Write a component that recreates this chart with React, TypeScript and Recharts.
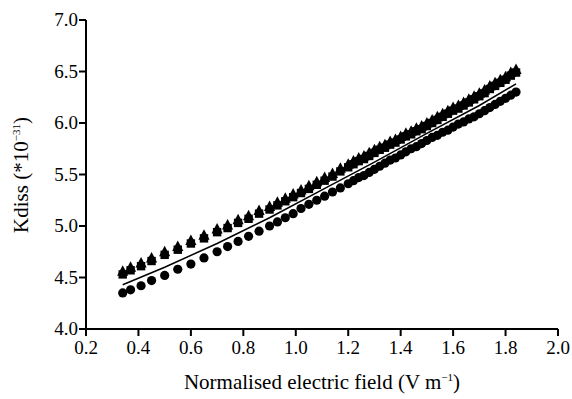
import { ComposedChart, Scatter, XAxis, YAxis } from "recharts";

const fieldX = [
  0.34, 0.37, 0.41, 0.45, 0.5, 0.55, 0.6, 0.65, 0.7, 0.74, 0.78, 0.82, 0.86, 0.9, 0.93, 0.96, 0.99, 1.02, 1.05, 1.08,
  1.11, 1.14, 1.17, 1.2, 1.22, 1.24, 1.26, 1.28, 1.3, 1.32, 1.34, 1.36, 1.38, 1.4, 1.42, 1.44, 1.46, 1.48, 1.5, 1.52,
  1.54, 1.56, 1.58, 1.6, 1.62, 1.64, 1.66, 1.68, 1.7, 1.72, 1.74, 1.76, 1.78, 1.8, 1.82, 1.84,
];

const triangleY = [
  4.56, 4.6, 4.64, 4.69, 4.75, 4.8, 4.86, 4.91, 4.97, 5.01, 5.06, 5.1, 5.15, 5.19, 5.23, 5.27, 5.31, 5.35, 5.39, 5.43,
  5.47, 5.51, 5.56, 5.6, 5.63, 5.66, 5.68, 5.71, 5.74, 5.77, 5.79, 5.82, 5.84, 5.87, 5.9, 5.92, 5.95, 5.97, 6.0, 6.03,
  6.06, 6.09, 6.12, 6.15, 6.17, 6.2, 6.23, 6.26, 6.29, 6.32, 6.36, 6.39, 6.42, 6.45, 6.49, 6.52,
];

const squareY = [
  4.53, 4.57, 4.61, 4.66, 4.72, 4.77, 4.83, 4.88, 4.94, 4.98, 5.03, 5.07, 5.12, 5.16, 5.2, 5.24, 5.28, 5.32, 5.36, 5.4,
  5.44, 5.48, 5.53, 5.57, 5.6, 5.63, 5.65, 5.68, 5.71, 5.74, 5.76, 5.79, 5.81, 5.84, 5.87, 5.89, 5.92, 5.94, 5.97, 6.0,
  6.03, 6.06, 6.09, 6.12, 6.14, 6.17, 6.2, 6.23, 6.26, 6.29, 6.33, 6.36, 6.39, 6.42, 6.46, 6.49,
];

const circleY = [
  4.35, 4.38, 4.42, 4.47, 4.52, 4.58, 4.63, 4.69, 4.75, 4.8, 4.85, 4.9, 4.95, 5.0, 5.04, 5.08, 5.12, 5.17, 5.21, 5.25,
  5.29, 5.33, 5.37, 5.41, 5.44, 5.47, 5.49, 5.52, 5.55, 5.58, 5.61, 5.64, 5.66, 5.69, 5.72, 5.75, 5.77, 5.8, 5.83, 5.86,
  5.88, 5.91, 5.93, 5.96, 5.99, 6.01, 6.04, 6.06, 6.09, 6.12, 6.15, 6.18, 6.21, 6.24, 6.27, 6.3,
];

const fitX = [0.34, 0.5, 0.7, 0.9, 1.1, 1.3, 1.5, 1.7, 1.84];
const fitY = [4.43, 4.6, 4.83, 5.08, 5.35, 5.62, 5.9, 6.17, 6.38];

const xTicks = [0.2, 0.4, 0.6, 0.8, 1.0, 1.2, 1.4, 1.6, 1.8, 2.0];
const yTicks = [4.0, 4.5, 5.0, 5.5, 6.0, 6.5, 7.0];

const serif = { fontFamily: "Liberation Serif, Times New Roman, serif" };

const toPoints = (xs: number[], ys: number[]) => xs.map((x, i) => ({ x, y: ys[i] }));

const triangles = toPoints(fieldX, triangleY);
const squares = toPoints(fieldX, squareY);
const circles = toPoints(fieldX, circleY);
const fit = toPoints(fitX, fitY);

const Dot = (p: any) => <circle cx={p.cx} cy={p.cy} r={4.6} fill="#000" />;
const Square = (p: any) => <rect x={p.cx - 4.2} y={p.cy - 4.2} width={8.4} height={8.4} fill="#000" />;
const Triangle = (p: any) => (
  <polygon points={`${p.cx},${p.cy - 6} ${p.cx - 5.6},${p.cy + 4.5} ${p.cx + 5.6},${p.cy + 4.5}`} fill="#000" />
);

const XTick = (p: any) => (
  <text x={p.x} y={p.y + 16} textAnchor="middle" style={serif} fontSize={19} fill="#000">
    {Number(p.payload.value).toFixed(1)}
  </text>
);

const YTick = (p: any) => (
  <text x={p.x + 1} y={p.y + 6} textAnchor="end" style={serif} fontSize={19} fill="#000">
    {Number(p.payload.value).toFixed(1)}
  </text>
);

function YLabel() {
  return (
    <text x={28} y={175} transform="rotate(-90 28 175)" textAnchor="middle" style={serif} fontSize={21} fill="#000">
      Kdiss (*10
      <tspan fontSize={11} dy={-8}>
        −31
      </tspan>
      <tspan dy={8}>)</tspan>
    </text>
  );
}

function XLabel() {
  return (
    <text x={322} y={389} textAnchor="middle" style={serif} fontSize={21} fill="#000">
      Normalised electric field (V m
      <tspan fontSize={11} dy={-8}>
        −1
      </tspan>
      <tspan dy={8}>)</tspan>
    </text>
  );
}

export default function App() {
  return (
    <div style={{ position: "absolute", left: 0, top: 0, background: "#fff" }}>
      <ComposedChart width={572} height={399} margin={{ top: 20, right: 14, bottom: 30, left: 26 }}>
        <XAxis
          type="number"
          dataKey="x"
          domain={[0.2, 2.0]}
          ticks={xTicks}
          height={40}
          stroke="#000"
          strokeWidth={2}
          tickSize={7}
          tick={<XTick />}
          allowDataOverflow
        />
        <YAxis
          type="number"
          dataKey="y"
          domain={[4.0, 7.0]}
          ticks={yTicks}
          width={60}
          stroke="#000"
          strokeWidth={2}
          tickSize={7}
          tick={<YTick />}
          allowDataOverflow
        />
        <Scatter data={circles} shape={Dot} isAnimationActive={false} />
        <Scatter data={squares} shape={Square} isAnimationActive={false} />
        <Scatter data={triangles} shape={Triangle} isAnimationActive={false} />
        <Scatter
          data={fit}
          line={{ stroke: "#000", strokeWidth: 1.5 }}
          lineType="joint"
          shape={() => null}
          isAnimationActive={false}
        />
        <YLabel />
        <XLabel />
      </ComposedChart>
    </div>
  );
}
